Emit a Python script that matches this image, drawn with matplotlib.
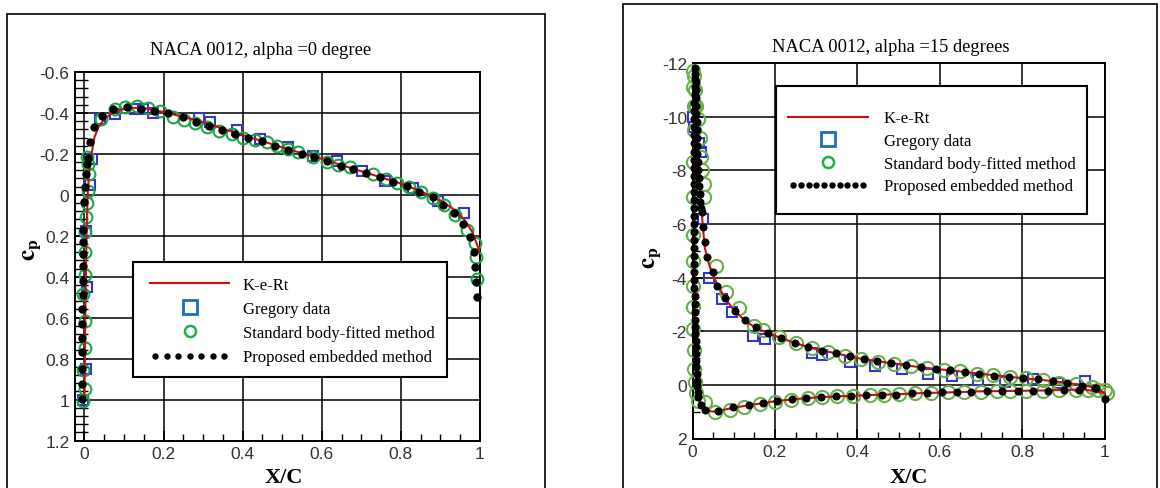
import matplotlib.pyplot as plt
from matplotlib.lines import Line2D
from matplotlib.patches import Rectangle
from matplotlib.legend_handler import HandlerLine2D
from matplotlib.ticker import MultipleLocator

plt.rcParams['font.family'] = ['Liberation Serif', 'DejaVu Serif']
plt.rcParams['mathtext.fontset'] = 'stix'

labels = ["K-e-Rt", "Gregory data", "Standard body-fitted method", "Proposed embedded method"]

# ---------------- alpha = 0 ----------------
x_ke0 = [0.0, 0.002, 0.005, 0.008, 0.012, 0.018, 0.025, 0.035, 0.05, 0.07, 0.1, 0.13, 0.16, 0.2,
         0.25, 0.3, 0.35, 0.4, 0.45, 0.5, 0.55, 0.6, 0.65, 0.7, 0.75, 0.8, 0.85, 0.9, 0.93, 0.96,
         0.98, 0.99, 1.0]
cp_ke0 = [1.0, 0.6, 0.2, 0.0, -0.12, -0.2, -0.28, -0.33, -0.37, -0.40, -0.42, -0.425, -0.42, -0.405,
          -0.38, -0.355, -0.323, -0.292, -0.262, -0.232, -0.203, -0.175, -0.145, -0.115, -0.085,
          -0.055, -0.018, 0.03, 0.065, 0.12, 0.18, 0.23, 0.28]

x_greg0 = [-0.003, 0.004, 0.0055, 0.004, 0.014, 0.018, 0.039, 0.077, 0.128, 0.149, 0.174, 0.29,
           0.317, 0.385, 0.444, 0.515, 0.578, 0.638, 0.701, 0.76, 0.831, 0.895, 0.96]
cp_greg0 = [1.0, 0.85, 0.45, 0.176, -0.05, -0.175, -0.37, -0.395, -0.42, -0.42, -0.40, -0.374,
            -0.357, -0.318, -0.272, -0.232, -0.19, -0.166, -0.117, -0.069, -0.031, 0.029, 0.089]

x_std0 = [-0.003, 0.001, -0.003, 0.001, 0.001, -0.003, 0.001, 0.001, 0.001, 0.004, 0.007, 0.0096,
          0.011, 0.0096, 0.0056, 0.043, 0.077, 0.102, 0.132, 0.161, 0.191, 0.223, 0.252, 0.279,
          0.309, 0.34, 0.372, 0.402, 0.432, 0.461, 0.487, 0.515, 0.541, 0.579, 0.612, 0.641,
          0.671, 0.73, 0.762, 0.789, 0.82, 0.85, 0.88, 0.909, 0.937, 0.966, 0.987, 0.99, 0.993]
cp_std0 = [1.007, 0.95, 0.857, 0.746, 0.616, 0.485, 0.39, 0.28, 0.18, 0.11, 0.042, -0.02,
           -0.1, -0.15, -0.183, -0.37, -0.42, -0.427, -0.432, -0.422, -0.41, -0.378, -0.365, -0.35,
           -0.33, -0.313, -0.297, -0.28, -0.268, -0.256, -0.24, -0.224, -0.207, -0.183, -0.158,
           -0.148, -0.134, -0.10, -0.077, -0.057, -0.037, -0.015, 0.015, 0.05, 0.099, 0.171,
           0.236, 0.306, 0.412]

x_emb0 = [-0.007, -0.007, -0.007, -0.006, -0.006, -0.006, -0.006, -0.005, -0.005, -0.004, -0.004,
          -0.003, -0.003, -0.0013, 0.0013, 0.003, 0.0056, 0.0096, 0.014, 0.024, 0.0435, 0.073,
          0.108, 0.142, 0.176, 0.212, 0.248, 0.282, 0.316, 0.347, 0.381, 0.414, 0.448, 0.482,
          0.515, 0.549, 0.58, 0.612, 0.648, 0.68, 0.713, 0.747, 0.781, 0.815, 0.847, 0.88, 0.907,
          0.934, 0.958, 0.975, 0.985, 0.987, 0.99, 0.992]
cp_emb0 = [0.996, 0.922, 0.85, 0.77, 0.70, 0.632, 0.56, 0.49, 0.42, 0.35, 0.29, 0.23, 0.17, 0.037,
           -0.036, -0.10, -0.15, -0.18, -0.256, -0.33, -0.386, -0.42, -0.43, -0.42, -0.41, -0.40,
           -0.378, -0.357, -0.337, -0.318, -0.297, -0.277, -0.261, -0.24, -0.22, -0.199, -0.183,
           -0.166, -0.142, -0.126, -0.106, -0.085, -0.064, -0.041, -0.012, 0.013, 0.049, 0.089,
           0.143, 0.208, 0.279, 0.352, 0.425, 0.497]

xt0 = [0, 0.2, 0.4, 0.6, 0.8, 1.0]
xt0_lab = ["0", "0.2", "0.4", "0.6", "0.8", "1"]
yt0 = [-0.6, -0.4, -0.2, 0, 0.2, 0.4, 0.6, 0.8, 1.0, 1.2]
yt0_lab = ["-0.6", "-0.4", "-0.2", "0", "0.2", "0.4", "0.6", "0.8", "1", "1.2"]

# ---------------- alpha = 15 ----------------
x_ke15 = [1.0, 0.95, 0.9, 0.85, 0.8, 0.75, 0.7, 0.65, 0.6, 0.55, 0.5, 0.45, 0.4, 0.35, 0.3, 0.25,
          0.2, 0.15, 0.1, 0.07, 0.05, 0.03, 0.018, 0.012, 0.008, 0.005, 0.003, 0.002, 0.002, 0.003,
          0.005, 0.007, 0.009, 0.012, 0.016, 0.02, 0.025, 0.03, 0.04, 0.05, 0.06, 0.08, 0.1, 0.13,
          0.16, 0.2, 0.25, 0.3, 0.35, 0.4, 0.45, 0.5, 0.55, 0.6, 0.65, 0.7, 0.75, 0.8, 0.85, 0.9,
          0.95, 0.98, 1.0]
cp_ke15 = [0.3, 0.17, 0.19, 0.21, 0.22, 0.23, 0.24, 0.27, 0.29, 0.31, 0.35, 0.37, 0.40, 0.43, 0.47,
           0.53, 0.61, 0.73, 0.85, 0.95, 1.0, 0.94, 0.6, 0.1, -0.8, -2.0, -3.5, -5.5, -8.0, -10.0,
           -11.3, -11.7, -11.0, -9.6, -8.2, -7.0, -5.9, -5.1, -4.5, -4.1, -3.75, -3.2, -2.8, -2.35,
           -2.08, -1.83, -1.55, -1.33, -1.17, -1.0, -0.88, -0.77, -0.66, -0.58, -0.5, -0.41, -0.33,
           -0.25, -0.18, -0.09, 0.02, 0.12, 0.3]

x_greg15 = [0.002, 0.004, 0.015, 0.02, 0.025, 0.04, 0.072, 0.096, 0.148, 0.176, 0.29, 0.315, 0.382,
            0.443, 0.508, 0.572, 0.63, 0.694, 0.758, 0.827, 0.888, 0.953]
cp_greg15 = [-10.0, -9.6, -9.0, -8.7, -6.2, -4.0, -3.2, -2.7, -1.83, -1.72, -1.2, -1.1, -0.87,
             -0.7, -0.58, -0.42, -0.33, -0.17, -0.12, -0.22, -0.07, -0.15]

x_std15 = [0.001, 0.002, 0.003, 0.003, 0.002, 0.001, 0.0, 0.0, 0.0, 0.001, 0.002, 0.003, 0.004,
           0.006, 0.009, 0.014, 0.004, 0.006, 0.009, 0.013, 0.017, 0.021, 0.024, 0.027, 0.029,
           0.058, 0.081, 0.114, 0.15, 0.172, 0.21, 0.25, 0.29, 0.33, 0.37, 0.41, 0.45, 0.49, 0.53,
           0.57, 0.61, 0.65, 0.69, 0.73, 0.77, 0.81, 0.85, 0.89, 0.93, 0.97, 1.0,
           0.03, 0.055, 0.09, 0.125, 0.165, 0.2, 0.24, 0.28, 0.315, 0.35, 0.39, 0.43, 0.465, 0.5,
           0.54, 0.58, 0.62, 0.66, 0.7, 0.74, 0.77, 0.81, 0.85, 0.89, 0.93, 0.96, 0.985, 1.005]
cp_std15 = [-11.7, -11.1, -10.4, -9.5, -8.3, -7.0, -5.6, -4.6, -3.7, -2.9, -2.1, -1.3, -0.6,
            -0.1, 0.3, 0.6, -11.5, -11.0, -10.4, -9.9, -9.2, -8.5, -8.0, -7.5, -7.0,
            -4.45, -3.45, -2.85, -2.2, -2.05, -1.78, -1.55, -1.37, -1.22, -1.08, -0.97, -0.87,
            -0.78, -0.7, -0.63, -0.56, -0.5, -0.42, -0.35, -0.29, -0.24, -0.17, -0.08, -0.02,
            0.08, 0.2,
            0.65, 1.02, 0.95, 0.82, 0.73, 0.64, 0.56, 0.5, 0.46, 0.43, 0.4, 0.38, 0.36, 0.34,
            0.32, 0.30, 0.28, 0.27, 0.25, 0.24, 0.23, 0.22, 0.22, 0.21, 0.2, 0.19, 0.18, 0.3]

# embedded method: nose (lower side going round), top of suction peak, upper surface, lower surface
x_emb15_nose = [0.014, 0.013, 0.012, 0.011, 0.010, 0.0095, 0.009, 0.0085, 0.008, 0.0075, 0.007,
                0.0065, 0.006, 0.0055, 0.005, 0.005, 0.0045, 0.0045, 0.004, 0.004, 0.004, 0.0035,
                0.0035, 0.0035, 0.003, 0.003, 0.003, 0.003, 0.003, 0.003, 0.003, 0.003, 0.0035,
                0.0035, 0.0035, 0.004, 0.004, 0.004, 0.0045, 0.0045, 0.005, 0.005, 0.0055]
cp_emb15_nose = [0.46, 0.25, 0.05, -0.15, -0.4, -0.65, -0.9, -1.15, -1.4, -1.65, -1.9, -2.15,
                 -2.4, -2.7, -3.0, -3.3, -3.6, -3.9, -4.2, -4.5, -4.8, -5.1, -5.4, -5.7, -6.0,
                 -6.3, -6.6, -6.9, -7.2, -7.5, -7.8, -8.1, -8.4, -8.7, -9.0, -9.3, -9.6, -9.9,
                 -10.2, -10.5, -10.8, -11.1, -11.4]
x_emb15_top = [0.006, 0.007, 0.0075, 0.008, 0.0085, 0.009, 0.0095, 0.010, 0.0105, 0.011, 0.0115,
               0.012, 0.013, 0.014, 0.015, 0.016, 0.017, 0.018, 0.020]
cp_emb15_top = [-11.8, -11.6, -11.3, -11.0, -10.7, -10.4, -10.1, -9.8, -9.5, -9.2, -8.9, -8.6,
                -8.3, -8.0, -7.7, -7.4, -7.1, -6.8, -6.6]
x_emb15_up = [0.022, 0.026, 0.030, 0.036, 0.050, 0.059, 0.079, 0.103, 0.127, 0.154, 0.184, 0.216,
              0.249, 0.281, 0.314, 0.348, 0.382, 0.416, 0.449, 0.483, 0.518, 0.554, 0.591, 0.625,
              0.661, 0.696, 0.732, 0.767, 0.803, 0.838, 0.874, 0.910, 0.945, 0.979, 1.001]
cp_emb15_up = [-6.43, -5.9, -5.31, -4.76, -4.20, -3.70, -3.23, -2.77, -2.43, -2.17, -1.93, -1.74,
               -1.56, -1.40, -1.27, -1.19, -1.06, -0.96, -0.90, -0.81, -0.74, -0.65, -0.59, -0.55,
               -0.49, -0.40, -0.34, -0.30, -0.24, -0.22, -0.13, -0.06, 0.03, 0.13, 0.53]
x_emb15_low = [0.021, 0.030, 0.063, 0.099, 0.136, 0.170, 0.204, 0.241, 0.275, 0.312, 0.348, 0.384,
               0.421, 0.459, 0.495, 0.532, 0.568, 0.605, 0.641, 0.677, 0.714, 0.752, 0.789, 0.827,
               0.864, 0.902, 0.939, 0.977]
cp_emb15_low = [0.75, 0.94, 0.99, 0.84, 0.75, 0.69, 0.61, 0.54, 0.49, 0.46, 0.43, 0.40, 0.38,
                0.37, 0.37, 0.32, 0.30, 0.28, 0.28, 0.25, 0.23, 0.23, 0.22, 0.22, 0.22, 0.19,
                0.18, 0.13]

x_emb15 = x_emb15_nose + x_emb15_top + x_emb15_up + x_emb15_low
cp_emb15 = cp_emb15_nose + cp_emb15_top + cp_emb15_up + cp_emb15_low

xt15 = [0, 0.2, 0.4, 0.6, 0.8, 1.0]
xt15_lab = ["0", "0.2", "0.4", "0.6", "0.8", "1"]
yt15 = [-12, -10, -8, -6, -4, -2, 0, 2]
yt15_lab = ["-12", "-10", "-8", "-6", "-4", "-2", "0", "2"]

W, H = 1160, 489
fig = plt.figure(figsize=(11.6, 4.89), dpi=100)


def box(l, t, r, b):
    return [l / W, 1 - b / H, (r - l) / W, (b - t) / H]


ax1 = fig.add_axes(box(75, 73, 480, 441.5))
ax2 = fig.add_axes(box(692.5, 64, 1104.5, 439.5))

red = '#cc1010'
sq_col = '#3535cc'


def draw(ax, xk, ck, xg, cg, xs, cs, xe, ce, circ_col, circ_ms, dot_ms):
    ax.plot(xg, cg, ls='none', marker='s', ms=7.5, mfc='none', mec=sq_col, mew=1.5,
            zorder=3, clip_on=False)
    ax.plot(xs, cs, ls='none', marker='o', ms=circ_ms, mfc='none', mec=circ_col, mew=1.5,
            zorder=3.1, clip_on=False)
    ax.plot(xk, ck, color=red, lw=1.5, zorder=3.2)
    ax.plot(xe, ce, ls='none', marker='o', ms=dot_ms, color='black', zorder=3.3, clip_on=False)


draw(ax1, x_ke0, cp_ke0, x_greg0, cp_greg0, x_std0, cp_std0, x_emb0, cp_emb0,
     '#1aa84a', 8.5, 5.0)
draw(ax2, x_ke15, cp_ke15, x_greg15, cp_greg15, x_std15, cp_std15, x_emb15, cp_emb15,
     '#6cb04c', 9.5, 4.8)

ax1.set_xlim(-0.024, 1.0)
ax1.set_ylim(1.2, -0.6)
ax1.set_xticks(xt0, xt0_lab)
ax1.set_yticks(yt0, yt0_lab)
ax1.xaxis.set_minor_locator(MultipleLocator(0.05))
ax1.yaxis.set_minor_locator(MultipleLocator(0.04))

ax2.set_xlim(0, 1.0)
ax2.set_ylim(2, -12)
ax2.set_xticks(xt15, xt15_lab)
ax2.set_yticks(yt15, yt15_lab)
ax2.xaxis.set_minor_locator(MultipleLocator(0.05))
ax2.yaxis.set_minor_locator(MultipleLocator(1))

for ax in (ax1, ax2):
    ax.grid(True, which='major', color='black', lw=1.1)
    ax.set_axisbelow(True)
    for s in ax.spines.values():
        s.set_linewidth(1.4)
    ax.tick_params(which='both', direction='in', labelsize=12.5, labelcolor='#333333', pad=4,
                   labelfontfamily='Liberation Sans')
    ax.tick_params(which='major', length=7, width=1.2)
    ax.tick_params(which='minor', length=5, width=1.0)
ax1.tick_params(axis='y', which='both', length=9)


# legends
def add_legend(ax, l, t, r, b, x0, y0, ndots, hl, tp, ls):
    ax.add_patch(Rectangle((l / W, 1 - b / H), (r - l) / W, (b - t) / H, transform=fig.transFigure,
                           facecolor='white', edgecolor='black', lw=1.5, zorder=4))
    hs = [Line2D([], [], color=red, lw=1.5),
          Line2D([], [], ls='none', marker='s', ms=9.5, mfc='none', mec='#1a6fc0', mew=2),
          Line2D([], [], ls='none', marker='o', ms=8, mfc='none', mec='#1fae4a', mew=1.8),
          Line2D([], [], ls='none', marker='o', ms=3.6, color='black')]
    leg = ax.legend(hs, labels, loc='upper left', bbox_to_anchor=(x0 / W, 1 - y0 / H),
                    bbox_transform=fig.transFigure, frameon=False, fontsize=12, borderpad=0,
                    borderaxespad=0, handlelength=hl, handletextpad=tp, labelspacing=ls,
                    handler_map={hs[3]: HandlerLine2D(numpoints=ndots)})
    leg.set_zorder(5)


add_legend(ax1, 133.3, 262.7, 446.7, 378.3, 150, 277.5, 7, 4.74, 0.82, 0.50)
add_legend(ax2, 775.7, 87.3, 1086.7, 215, 788, 111.5, 10, 4.8, 0.94, 0.40)

# titles and axis labels
fig.text(261 / W, 1 - 51 / H, "NACA 0012, alpha =0 degree", ha='center', va='center', fontsize=13.3)
fig.text(891 / W, 1 - 47 / H, "NACA 0012, alpha =15 degrees", ha='center', va='center', fontsize=13.3)
fig.text(284 / W, 1 - 478 / H, "X/C", ha='center', va='center', fontsize=16, fontweight='bold')
fig.text(909 / W, 1 - 478 / H, "X/C", ha='center', va='center', fontsize=16, fontweight='bold')
fig.text(31.7 / W, 1 - 250 / H, r'$\mathbf{c}_\mathbf{p}$', ha='center', va='center', fontsize=18,
         rotation=90)
fig.text(651.7 / W, 1 - 258 / H, r'$\mathbf{c}_\mathbf{p}$', ha='center', va='center', fontsize=18,
         rotation=90)

# panel frames
fig.add_artist(Rectangle((6.7 / W, -0.1), (545 - 6.7) / W, 1.1 - 15 / H, transform=fig.transFigure,
                         fill=False, edgecolor='black', lw=1.2))
fig.add_artist(Rectangle((623.3 / W, -0.1), (1157 - 623.3) / W, 1.1 - 5 / H, transform=fig.transFigure,
                         fill=False, edgecolor='black', lw=1.2))

fig.savefig('out.png', dpi=100)
